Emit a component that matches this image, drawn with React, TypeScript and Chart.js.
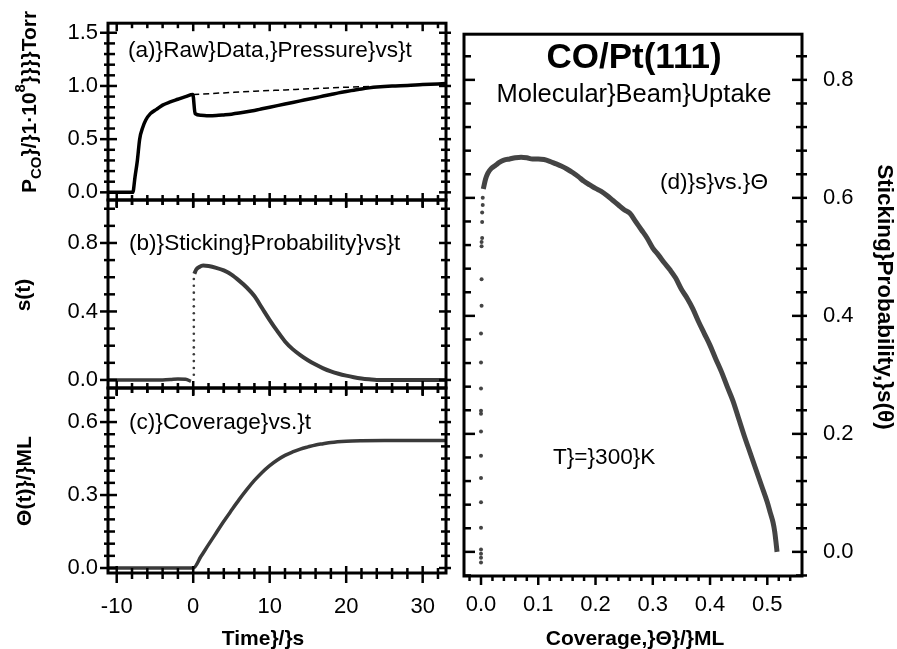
import React, { useEffect, useRef } from "react";
import { Chart, registerables } from "chart.js";

Chart.register(...registerables);

const FONT = "'Liberation Sans', Arial, Helvetica, sans-serif";

// ---------- Panel (a): raw pressure vs time ----------
const aTime = [-11.1, -7.9, -7.6, -7.3, -7.0, -6.6, -6.2, -5.6, -4.8, -4.0, -3.0, -2.0, -1.0, -0.05, 0.25, 1, 2, 3, 4, 5, 6, 7, 8, 9, 10, 11, 12, 13, 14, 15, 16, 17, 18, 19, 20, 21, 22, 23, 24, 26, 28, 30, 33];
const aPressure = [0, 0, 0.15, 0.3, 0.5, 0.61, 0.68, 0.74, 0.78, 0.82, 0.85, 0.875, 0.9, 0.92, 0.74, 0.725, 0.72, 0.722, 0.728, 0.735, 0.745, 0.757, 0.77, 0.785, 0.8, 0.815, 0.83, 0.845, 0.86, 0.875, 0.89, 0.905, 0.92, 0.935, 0.948, 0.96, 0.972, 0.982, 0.99, 1.0, 1.005, 1.013, 1.022];
const aBaseTime = [0, 4, 8, 12, 16, 20, 23];
const aBasePressure = [0.92, 0.935, 0.95, 0.963, 0.976, 0.988, 0.995];

// ---------- Panel (b): sticking probability vs time ----------
const bTime = [-11.1, -4, -3, -2, -1, -0.3, 0.15, 0.4, 0.8, 1.3, 2, 3, 4, 5, 6, 7, 8, 9, 10, 11, 12, 13, 14, 15, 16, 17, 18, 19, 20, 21, 22, 23, 24, 33];
const bStick = [0, 0, 0.002, 0.006, 0.004, -0.008, 0.62, 0.645, 0.66, 0.668, 0.665, 0.655, 0.64, 0.615, 0.58, 0.54, 0.49, 0.42, 0.35, 0.285, 0.225, 0.18, 0.145, 0.115, 0.09, 0.068, 0.05, 0.036, 0.025, 0.016, 0.009, 0.004, 0, 0];
const bJumpTime = 0.08;
const bJumpStick = [0.03, 0.07, 0.11, 0.15, 0.19, 0.23, 0.27, 0.31, 0.35, 0.39, 0.43, 0.47, 0.51, 0.55, 0.59];

// ---------- Panel (c): coverage vs time ----------
const cTime = [-11.1, 0, 1, 2, 3, 4, 5, 6, 7, 8, 9, 10, 11, 12, 13, 14, 15, 16, 17, 18, 20, 22, 25, 33];
const cCoverage = [0, 0, 0.047, 0.096, 0.144, 0.192, 0.237, 0.281, 0.322, 0.36, 0.393, 0.421, 0.444, 0.463, 0.477, 0.489, 0.498, 0.506, 0.511, 0.516, 0.521, 0.523, 0.524, 0.524];

// ---------- Panel (d): sticking probability vs coverage ----------
const dTheta = [0.004, 0.008, 0.012, 0.018, 0.025, 0.032, 0.04, 0.05, 0.06, 0.07, 0.08, 0.09, 0.1, 0.11, 0.12, 0.13, 0.14, 0.15, 0.16, 0.17, 0.18, 0.19, 0.2, 0.21, 0.22, 0.23, 0.24, 0.25, 0.26, 0.27, 0.28, 0.29, 0.3, 0.31, 0.32, 0.33, 0.34, 0.35, 0.36, 0.37, 0.38, 0.39, 0.4, 0.41, 0.42, 0.43, 0.44, 0.45, 0.46, 0.47, 0.48, 0.49, 0.5, 0.505, 0.51, 0.513, 0.515, 0.517];
const dStick = [0.615, 0.632, 0.642, 0.65, 0.655, 0.66, 0.664, 0.666, 0.668, 0.669, 0.668, 0.666, 0.666, 0.665, 0.662, 0.658, 0.654, 0.649, 0.643, 0.636, 0.628, 0.622, 0.616, 0.611, 0.604, 0.596, 0.588, 0.58, 0.574, 0.56, 0.546, 0.532, 0.515, 0.503, 0.49, 0.478, 0.464, 0.445, 0.43, 0.412, 0.39, 0.37, 0.35, 0.327, 0.305, 0.28, 0.256, 0.226, 0.196, 0.168, 0.14, 0.112, 0.084, 0.067, 0.05, 0.034, 0.018, 0.0];
const dDotTheta = [0, 0, 0, 0, 0, 0, 0, 0, 0, 0, 0, 0, 0, 0, 0.001, 0.001, 0.001, 0.001, 0.002, 0.002, 0.002, 0.003, 0.003];
const dDotStick = [-0.018, -0.01, -0.003, 0.004, 0.041, 0.084, 0.125, 0.163, 0.204, 0.234, 0.239, 0.277, 0.321, 0.37, 0.417, 0.462, 0.518, 0.525, 0.532, 0.559, 0.575, 0.588, 0.6];

// ---------- Ticks ----------
const tMajor = [-10, 0, 10, 20, 30];
const tMinor = [-8, -6, -4, -2, 2, 4, 6, 8, 12, 14, 16, 18, 22, 24, 26, 28, 32];
const aYMajor = [0, 0.5, 1.0, 1.5];
const aYMinor = [0.1, 0.2, 0.3, 0.4, 0.6, 0.7, 0.8, 0.9, 1.1, 1.2, 1.3, 1.4];
const bYMajor = [0, 0.4, 0.8];
const bYMinor = [0.1, 0.2, 0.3, 0.5, 0.6, 0.7, 0.9, 1.0];
const cYMajor = [0, 0.3, 0.6];
const cYMinor = [0.05, 0.1, 0.15, 0.2, 0.25, 0.35, 0.4, 0.45, 0.5, 0.55, 0.65, 0.7];
const dXMajor = [0, 0.1, 0.2, 0.3, 0.4, 0.5];
const dXMinor = [-0.02, 0.02, 0.04, 0.06, 0.08, 0.12, 0.14, 0.16, 0.18, 0.22, 0.24, 0.26, 0.28, 0.32, 0.34, 0.36, 0.38, 0.42, 0.44, 0.46, 0.48, 0.52, 0.54];
const dYMajor = [0, 0.2, 0.4, 0.6, 0.8];
const dYMinor = [-0.04, 0.04, 0.08, 0.12, 0.16, 0.24, 0.28, 0.32, 0.36, 0.44, 0.48, 0.52, 0.56, 0.64, 0.68, 0.72, 0.76, 0.84];

const pts = (xs: number[], ys: number[]) => xs.map((x, i) => ({ x, y: ys[i] }));

type TickSpec = { vals: number[]; inL: number; outL: number };
type Txt = { t: string; x: number; y: number; font: string; align?: CanvasTextAlign; rot?: number };

interface PanelCfg {
  xmin: number; xmax: number; ymin: number; ymax: number;
  padding: { left: number; right: number; top: number; bottom: number };
  yPos: "left" | "right"; yWidth: number; yLabels: number[]; yPad: number;
  showX: boolean; xHeight: number; xLabels: number[]; xPad: number; xFmt: (v: number) => string;
  datasets: any[];
  xTicks: { top?: [TickSpec, TickSpec]; bottom?: [TickSpec, TickSpec] };
  yTicks: { left?: [TickSpec, TickSpec]; right?: [TickSpec, TickSpec] };
  texts: Txt[];
  extra?: (ctx: CanvasRenderingContext2D) => void;
}

function panelPlugin(cfg: PanelCfg) {
  return {
    id: "panelDeco",
    afterDraw(chart: any) {
      const ctx: CanvasRenderingContext2D = chart.ctx;
      const { left, right, top, bottom } = chart.chartArea;
      const xs = chart.scales.x;
      const ys = chart.scales.y;
      ctx.save();
      ctx.strokeStyle = "#000";
      ctx.lineWidth = 3;
      ctx.strokeRect(left, top, right - left, bottom - top);
      ctx.lineWidth = 2.5;
      ctx.lineCap = "butt";
      const line = (x1: number, y1: number, x2: number, y2: number) => {
        ctx.beginPath(); ctx.moveTo(x1, y1); ctx.lineTo(x2, y2); ctx.stroke();
      };
      const { top: xt, bottom: xb } = cfg.xTicks;
      if (xt) xt.forEach((s) => s.vals.forEach((v) => { const p = xs.getPixelForValue(v); line(p, top - s.outL, p, top + s.inL); }));
      if (xb) xb.forEach((s) => s.vals.forEach((v) => { const p = xs.getPixelForValue(v); line(p, bottom + s.outL, p, bottom - s.inL); }));
      const { left: yl, right: yr } = cfg.yTicks;
      if (yl) yl.forEach((s) => s.vals.forEach((v) => { const p = ys.getPixelForValue(v); line(left - s.outL, p, left + s.inL, p); }));
      if (yr) yr.forEach((s) => s.vals.forEach((v) => { const p = ys.getPixelForValue(v); line(right + s.outL, p, right - s.inL, p); }));
      ctx.fillStyle = "#000";
      ctx.textBaseline = "alphabetic";
      cfg.texts.forEach((tx) => {
        ctx.save();
        ctx.font = tx.font;
        ctx.textAlign = tx.align || "left";
        ctx.translate(tx.x, tx.y);
        if (tx.rot) ctx.rotate(tx.rot);
        ctx.fillText(tx.t, 0, 0);
        ctx.restore();
      });
      if (cfg.extra) cfg.extra(ctx);
      ctx.restore();
    },
  };
}

function buildChart(canvas: HTMLCanvasElement, cfg: PanelCfg) {
  const tickFont = { family: FONT, size: 22 };
  return new Chart(canvas, {
    type: "line",
    data: { datasets: cfg.datasets },
    options: {
      animation: false,
      responsive: false,
      maintainAspectRatio: false,
      events: [],
      layout: { padding: cfg.padding },
      plugins: { legend: { display: false }, tooltip: { enabled: false }, title: { display: false } },
      scales: {
        x: {
          type: "linear",
          min: cfg.xmin,
          max: cfg.xmax,
          display: cfg.showX,
          position: "bottom",
          grid: { display: false, drawTicks: false },
          border: { display: false },
          ticks: { font: tickFont, color: "#000", padding: cfg.xPad, autoSkip: false, maxRotation: 0, callback: (v: any) => cfg.xFmt(Number(v)) },
          afterBuildTicks: (s: any) => { s.ticks = cfg.xLabels.map((v) => ({ value: v })); },
          afterFit: (s: any) => { s.height = cfg.showX ? cfg.xHeight : 0; },
        },
        y: {
          type: "linear",
          min: cfg.ymin,
          max: cfg.ymax,
          position: cfg.yPos,
          grid: { display: false, drawTicks: false },
          border: { display: false },
          ticks: { font: tickFont, color: "#000", padding: cfg.yPad, autoSkip: false, callback: (v: any) => Number(v).toFixed(1) },
          afterBuildTicks: (s: any) => { s.ticks = cfg.yLabels.map((v) => ({ value: v })); },
          afterFit: (s: any) => { s.width = cfg.yWidth; },
        },
      },
    } as any,
    plugins: [panelPlugin(cfg) as any],
  });
}

const W = 897;
const H = 649;
const LX0 = 108, LX1 = 446;
const xMinL = -11.14, xMaxL = 33.05;

const leftXT = (inMaj: number, outMaj: number, inMin: number, outMin: number): [TickSpec, TickSpec] => [
  { vals: tMajor, inL: inMaj, outL: outMaj },
  { vals: tMinor, inL: inMin, outL: outMin },
];

const lineDs = (data: any[], color: string, width: number, extra: any = {}) => ({
  data, borderColor: color, backgroundColor: color, borderWidth: width, pointRadius: 0,
  cubicInterpolationMode: "monotone", fill: false, ...extra,
});
const dotDs = (data: any[], color: string, r: number) => ({
  data, showLine: false, pointRadius: r, pointBackgroundColor: color, pointBorderWidth: 0, borderColor: color,
});

const bold21 = `bold 21px ${FONT}`;
const reg22 = `22.6px ${FONT}`;

function drawPTitle(ctx: CanvasRenderingContext2D) {
  ctx.save();
  ctx.translate(36, 102);
  ctx.rotate(-Math.PI / 2);
  ctx.textBaseline = "alphabetic";
  ctx.textAlign = "left";
  const big = bold21;
  const small = `bold 15px ${FONT}`;
  const parts = [
    { t: "P", f: big, dy: 0 },
    { t: "CO", f: small, dy: 5 },
    { t: "}/}1·10", f: big, dy: 0 },
    { t: "8", f: small, dy: -11 },
    { t: "}}}}Torr", f: big, dy: 0 },
  ];
  let total = 0;
  const ws = parts.map((p) => { ctx.font = p.f; const w = ctx.measureText(p.t).width; total += w; return w; });
  let x = -total / 2;
  parts.forEach((p, i) => { ctx.font = p.f; ctx.fillText(p.t, x, p.dy); x += ws[i]; });
  ctx.restore();
}

const panels: PanelCfg[] = [
  {
    xmin: xMinL, xmax: xMaxL, ymin: -0.072, ymax: 1.59,
    padding: { left: 0, right: W - LX1, top: 15, bottom: H - 200 },
    yPos: "left", yWidth: LX0, yLabels: aYMajor, yPad: 10,
    showX: false, xHeight: 0, xLabels: tMajor, xPad: 0, xFmt: (v) => String(v),
    datasets: [
      lineDs(pts(aBaseTime, aBasePressure), "#000", 1.5, { borderDash: [6, 4] }),
      lineDs(pts(aTime, aPressure), "#000", 3.5),
    ],
    xTicks: { top: leftXT(8, 0, 5, 0), bottom: leftXT(7, 8, 5, 5) },
    yTicks: { left: [{ vals: aYMajor, inL: 9, outL: 8 }, { vals: aYMinor, inL: 7, outL: 4 }], right: [{ vals: aYMajor, inL: 7, outL: 5 }, { vals: aYMinor, inL: 5, outL: 4 }] },
    texts: [{ t: "(a)}Raw}Data,}Pressure}vs}t", x: 128, y: 57, font: reg22 }],
    extra: drawPTitle,
  },
  {
    xmin: xMinL, xmax: xMaxL, ymin: -0.047, ymax: 1.051,
    padding: { left: 0, right: W - LX1, top: 200, bottom: H - 388 },
    yPos: "left", yWidth: LX0, yLabels: bYMajor, yPad: 10,
    showX: false, xHeight: 0, xLabels: tMajor, xPad: 0, xFmt: (v) => String(v),
    datasets: [
      lineDs(pts(bTime.slice(0, 6), bStick.slice(0, 6)), "#3a3a3a", 3.5),
      lineDs(pts(bTime.slice(6), bStick.slice(6)), "#3a3a3a", 4),
      dotDs(bJumpStick.map((s) => ({ x: bJumpTime, y: s })), "#3a3a3a", 1.3),
    ],
    xTicks: { top: leftXT(7, 0, 5, 0), bottom: leftXT(7, 8, 5, 5) },
    yTicks: { left: [{ vals: bYMajor, inL: 9, outL: 8 }, { vals: bYMinor, inL: 7, outL: 4 }], right: [{ vals: bYMajor, inL: 7, outL: 5 }, { vals: bYMinor, inL: 5, outL: 4 }] },
    texts: [
      { t: "(b)}Sticking}Probability}vs}t", x: 129, y: 250, font: reg22 },
      { t: "s(t)", x: 30, y: 295, font: bold21, align: "center", rot: -Math.PI / 2 },
    ],
  },
  {
    xmin: xMinL, xmax: xMaxL, ymin: -0.0205, ymax: 0.74,
    padding: { left: 0, right: W - LX1, top: 388, bottom: H - 573 - 50 },
    yPos: "left", yWidth: LX0, yLabels: cYMajor, yPad: 10,
    showX: true, xHeight: 50, xLabels: tMajor, xPad: 21, xFmt: (v) => String(v),
    datasets: [lineDs(pts(cTime, cCoverage), "#3a3a3a", 3.5)],
    xTicks: { top: leftXT(7, 0, 5, 0), bottom: leftXT(7, 10, 5, 6) },
    yTicks: { left: [{ vals: cYMajor, inL: 9, outL: 8 }, { vals: cYMinor, inL: 7, outL: 4 }], right: [{ vals: cYMajor, inL: 7, outL: 5 }, { vals: cYMinor, inL: 5, outL: 4 }] },
    texts: [
      { t: "(c)}Coverage}vs.}t", x: 129, y: 429, font: reg22 },
      { t: "Θ(t)}/}ML", x: 31, y: 481, font: bold21, align: "center", rot: -Math.PI / 2 },
      { t: "Time}/}s", x: 263, y: 645, font: bold21, align: "center" },
    ],
  },
  {
    xmin: -0.0297, xmax: 0.5606, ymin: -0.0409, ymax: 0.8774,
    padding: { left: 464, right: 0, top: 15, bottom: H - 576 - 50 },
    yPos: "right", yWidth: W - 802, yLabels: dYMajor, yPad: 21,
    showX: true, xHeight: 50, xLabels: dXMajor, xPad: 16, xFmt: (v) => v.toFixed(1),
    datasets: [
      dotDs(pts(dDotTheta, dDotStick), "#444", 2),
      lineDs(pts(dTheta, dStick), "#444", 5),
    ],
    xTicks: { bottom: [{ vals: dXMajor, inL: 0, outL: 9 }, { vals: dXMinor, inL: 0, outL: 5 }] },
    yTicks: { left: [{ vals: dYMajor, inL: 11, outL: 0 }, { vals: dYMinor, inL: 7, outL: 0 }], right: [{ vals: dYMajor, inL: 10, outL: 5 }, { vals: dYMinor, inL: 6, outL: 5 }] },
    texts: [
      { t: "CO/Pt(111)", x: 634, y: 68, font: `bold 35px ${FONT}`, align: "center" },
      { t: "Molecular}Beam}Uptake", x: 634, y: 102, font: `25.5px ${FONT}`, align: "center" },
      { t: "(d)}s}vs.}Θ", x: 660, y: 189, font: reg22 },
      { t: "T}=}300}K", x: 553, y: 464, font: reg22 },
      { t: "Coverage,}Θ}/}ML", x: 635, y: 645, font: bold21, align: "center" },
      { t: "Sticking}Probability,}s(θ)", x: 878, y: 297, font: `bold 22.5px ${FONT}`, align: "center", rot: Math.PI / 2 },
    ],
  },
];

export default function App() {
  const refs = [useRef<HTMLCanvasElement>(null), useRef<HTMLCanvasElement>(null), useRef<HTMLCanvasElement>(null), useRef<HTMLCanvasElement>(null)];
  useEffect(() => {
    const charts = panels.map((cfg, i) => buildChart(refs[i].current as HTMLCanvasElement, cfg));
    return () => charts.forEach((c) => c.destroy());
  }, []);
  return (
    <div style={{ position: "absolute", left: 0, top: 0, width: W, height: H, background: "#fff" }}>
      {refs.map((r, i) => (
        <canvas key={i} ref={r} width={W} height={H} style={{ position: "absolute", left: 0, top: 0, width: W, height: H }} />
      ))}
    </div>
  );
}
